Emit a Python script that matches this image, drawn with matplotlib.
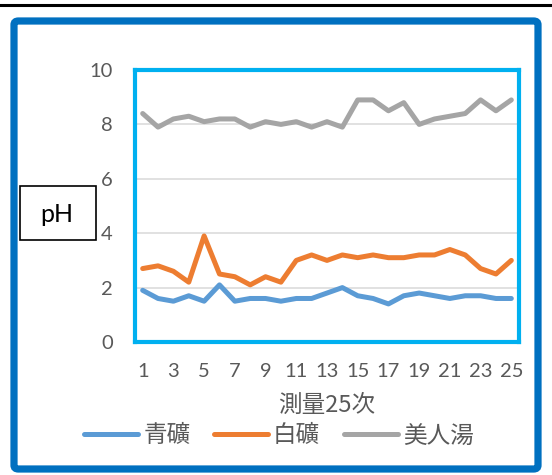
import matplotlib
matplotlib.use("Agg")
import matplotlib.pyplot as plt
from matplotlib.patches import FancyBboxPatch, Rectangle
from matplotlib.lines import Line2D

# pH readings over 25 measurements
measurements = list(range(1, 26))
xtick_labels = [str(i) for i in range(1, 26, 2)]
aoko = [1.9, 1.6, 1.5, 1.7, 1.5, 2.1, 1.5, 1.6, 1.6, 1.5, 1.6, 1.6, 1.8,
        2.0, 1.7, 1.6, 1.4, 1.7, 1.8, 1.7, 1.6, 1.7, 1.7, 1.6, 1.6]
shiro = [2.7, 2.8, 2.6, 2.2, 3.9, 2.5, 2.4, 2.1, 2.4, 2.2, 3.0, 3.2, 3.0,
         3.2, 3.1, 3.2, 3.1, 3.1, 3.2, 3.2, 3.4, 3.2, 2.7, 2.5, 3.0]
bijin = [8.4, 7.9, 8.2, 8.3, 8.1, 8.2, 8.2, 7.9, 8.1, 8.0, 8.1, 7.9, 8.1,
         7.9, 8.9, 8.9, 8.5, 8.8, 8.0, 8.2, 8.3, 8.4, 8.9, 8.5, 8.9]
series_names = ["青礦", "白礦", "美人湯"]
series_colors = ["#5B9BD5", "#ED7D31", "#A5A5A5"]
yticks = [0, 2, 4, 6, 8, 10]

W, H = 552, 475
fig = plt.figure(figsize=(W / 100, H / 100), dpi=100)

def fx(px):
    return px / W

def fy(py):
    return 1 - py / H

cjk = ["Noto Sans CJK JP", "DejaVu Sans"]
latin = ["Lato", "DejaVu Sans"]
txt_color = "#595959"

# top rule and the rounded chart frame
fig.add_artist(Line2D([0, 1], [fy(5), fy(5)], color="black", lw=2.2,
                      transform=fig.transFigure))
frame = FancyBboxPatch((fx(14), fy(469)), fx(538) - fx(14), fy(21) - fy(469),
                       boxstyle="round,pad=0,rounding_size=0.008",
                       transform=fig.transFigure, fill=False,
                       edgecolor="#0070C0", lw=5.2)
fig.add_artist(frame)

# plot area
left, right, top, bottom = 135, 519, 70, 342
ax = fig.add_axes([fx(left), fy(bottom), fx(right) - fx(left), fy(top) - fy(bottom)])

for vals, name, col in zip([aoko, shiro, bijin], series_names, series_colors):
    ax.plot(measurements, vals, color=col, lw=3.6, label=name,
            solid_capstyle="round", solid_joinstyle="round")

ax.set_xlim(0.5, 25.5)
ax.set_ylim(0, 10)
ax.set_yticks(yticks)
ax.set_xticks(list(range(1, 26, 2)))
ax.set_xticklabels(xtick_labels)
ax.grid(axis="y", color="#D9D9D9", lw=1.1)
ax.set_axisbelow(True)
ax.tick_params(length=0, labelsize=14.5, labelcolor=txt_color)
ax.tick_params(axis="y", pad=16)
ax.tick_params(axis="x", pad=15)
for lab in ax.get_xticklabels() + ax.get_yticklabels():
    lab.set_family(latin)
for s in ax.spines.values():
    s.set_color("#00B0F0")
    s.set_linewidth(3)

ax.set_xlabel("測量25次", family=cjk, fontsize=17, color=txt_color, labelpad=10)

# y axis title box
fig.add_artist(Rectangle((fx(20), fy(240)), fx(96) - fx(20), fy(186) - fy(240),
                         transform=fig.transFigure, fill=False,
                         edgecolor="black", lw=1.2))
fig.text(fx(57), fy(214), "pH", family=latin, fontsize=18, color="black",
         ha="center", va="center")

handles = [Line2D([], [], color=c, lw=3.6, solid_capstyle="round") for c in series_colors]
leg = fig.legend(handles, series_names, loc="center", ncol=3,
                 bbox_to_anchor=(fx(279), fy(436)), frameon=False,
                 prop={"family": cjk, "size": 17}, handlelength=2.3,
                 handletextpad=0.2, columnspacing=1.0, borderaxespad=0)
for t in leg.get_texts():
    t.set_color(txt_color)

fig.savefig("out.png", dpi=100)
